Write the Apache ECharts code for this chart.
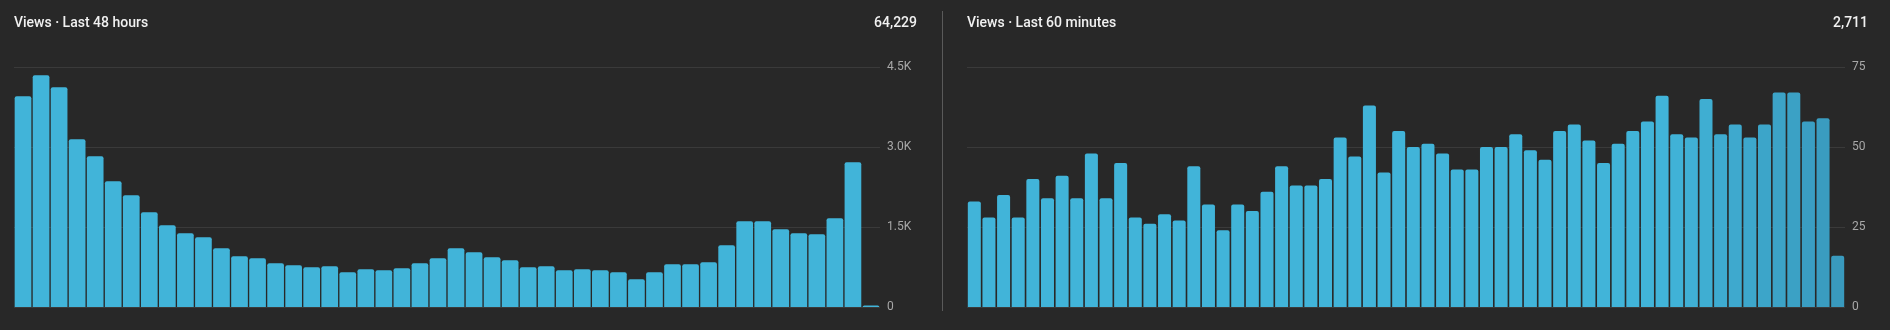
<!DOCTYPE html>
<html>
<head>
<meta charset="utf-8">
<script src="https://cdn.jsdelivr.net/npm/echarts@6/dist/echarts.min.js"></script>
<style>
  html, body { margin: 0; padding: 0; background: #282828; }
  #chart { width: 1890px; height: 330px; }
</style>
</head>
<body>
<div id="chart"></div>
<script>
// last 48 hours, views per hour
const hourViews = [
  3950, 4344, 4119, 3144, 2825, 2356, 2094, 1775, 1531, 1381,
  1306, 1100, 950, 913, 819, 781, 744, 763, 650, 706,
  688, 725, 819, 913, 1100, 1025, 931, 875, 744, 763,
  688, 706, 688, 650, 519, 650, 800, 800, 838, 1156,
  1606, 1606, 1456, 1381, 1363, 1663, 2713, 30
];
// last 60 minutes, views per minute
const minuteViews = [
  33, 28, 35, 28, 40, 34, 41, 34, 48, 34,
  45, 28, 26, 29, 27, 44, 32, 24, 32, 30,
  36, 44, 38, 38, 40, 53, 47, 63, 42, 55,
  50, 51, 48, 43, 43, 50, 50, 54, 49, 46,
  55, 57, 52, 45, 51, 55, 58, 66, 54, 53,
  65, 54, 57, 53, 57, 67, 67, 58, 59, 16
];
const hourCats = hourViews.map((_, i) => 'h' + i);
const minuteCats = minuteViews.map((_, i) => 'm' + i);

const titles = ['Views · Last 48 hours', 'Views · Last 60 minutes'];
const totals = ['64,229', '2,711'];

const FONT = 'Roboto, "Noto Sans", sans-serif';
const BAR = '#41b4d9';

// the newest minutes fade slightly darker
function minuteColor(idx) {
  const t = Math.max(0, Math.min(1, (idx - 47) / 12));
  const a = [0x41, 0xb4, 0xd9], b = [0x39, 0x9a, 0xbe];
  const c = a.map((v, k) => Math.round(v + (b[k] - v) * t));
  return 'rgb(' + c.join(',') + ')';
}

const chart = echarts.init(document.getElementById('chart'));

const yAxisBase = {
  type: 'value',
  position: 'right',
  min: 0,
  axisLine: { show: false },
  axisTick: { show: false },
  splitLine: { lineStyle: { color: '#3a3a3a', width: 1 } },
  axisLabel: { color: '#a8a8a8', fontFamily: FONT, fontSize: 12, margin: 7 }
};

const option = {
  backgroundColor: '#282828',
  animation: false,
  grid: [
    { left: 14, right: 1010, top: 67, bottom: 23 },
    { left: 967, right: 45, top: 67, bottom: 23 }
  ],
  xAxis: [
    { type: 'category', gridIndex: 0, data: hourCats, show: false },
    { type: 'category', gridIndex: 1, data: minuteCats, show: false }
  ],
  yAxis: [
    Object.assign({}, yAxisBase, {
      gridIndex: 0, max: 4500, interval: 1500,
      axisLabel: Object.assign({}, yAxisBase.axisLabel, {
        formatter: v => v === 0 ? '0' : (v / 1000).toFixed(1) + 'K'
      })
    }),
    Object.assign({}, yAxisBase, { gridIndex: 1, max: 75, interval: 25 })
  ],
  series: [
    {
      type: 'bar', xAxisIndex: 0, yAxisIndex: 0,
      data: hourViews,
      barCategoryGap: '7.5%',
      itemStyle: { color: BAR, borderRadius: [2, 2, 0, 0] }
    },
    {
      type: 'bar', xAxisIndex: 1, yAxisIndex: 1,
      data: minuteViews,
      barCategoryGap: '11%',
      itemStyle: { color: p => minuteColor(p.dataIndex), borderRadius: [2, 2, 0, 0] }
    }
  ],
  graphic: [
    { type: 'line', shape: { x1: 942.5, y1: 11, x2: 942.5, y2: 311 }, style: { stroke: '#5a5a5a', lineWidth: 1 } },
    { type: 'text', x: 14, y: 23, style: { text: titles[0], fill: '#f1f1f1', font: '500 14px ' + FONT, textVerticalAlign: 'middle' } },
    { type: 'text', x: 917, y: 23, style: { text: totals[0], fill: '#f1f1f1', font: '500 14px ' + FONT, textAlign: 'right', textVerticalAlign: 'middle' } },
    { type: 'text', x: 967, y: 23, style: { text: titles[1], fill: '#f1f1f1', font: '500 14px ' + FONT, textVerticalAlign: 'middle' } },
    { type: 'text', x: 1868, y: 23, style: { text: totals[1], fill: '#f1f1f1', font: '500 14px ' + FONT, textAlign: 'right', textVerticalAlign: 'middle' } }
  ]
};

chart.setOption(option);
</script>
</body>
</html>
